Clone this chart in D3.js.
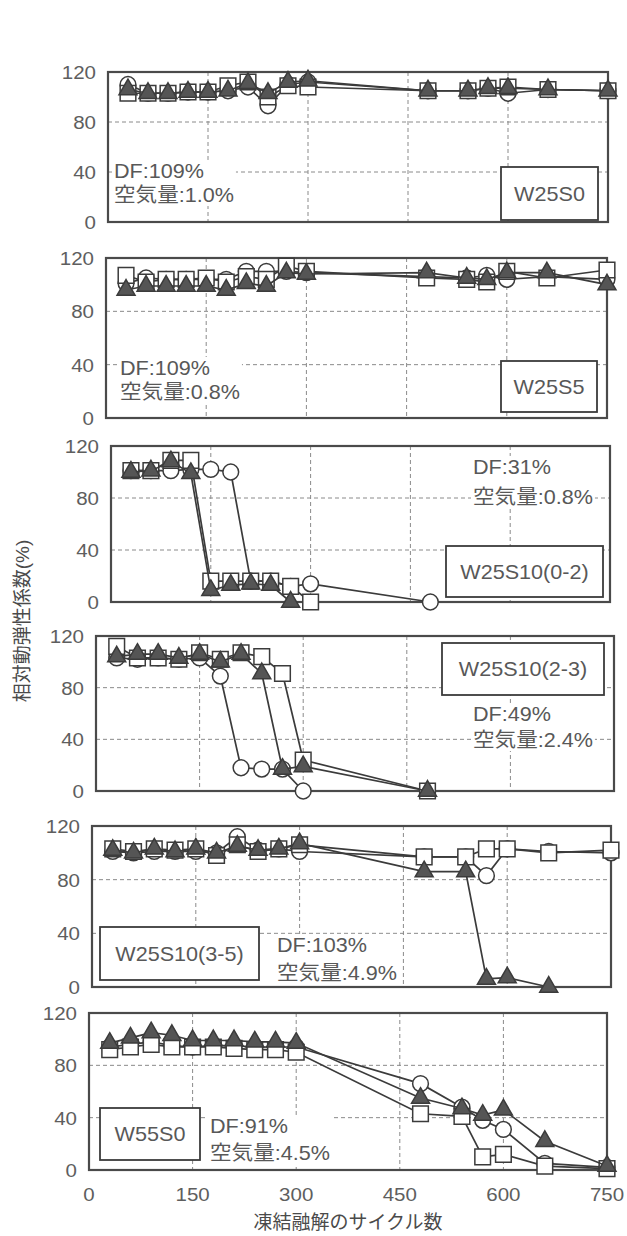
<!DOCTYPE html>
<html>
<head>
<meta charset="utf-8">
<script src="https://cdn.jsdelivr.net/npm/d3@7"></script>
<style>
  body { margin: 0; background: #fff; }
  text { font-family: "Liberation Sans", Arial, "Noto Sans CJK JP", sans-serif; }
</style>
</head>
<body>
<svg id="chart" width="627" height="1236"></svg>
<script>
// ---- data ----------------------------------------------------------------
const cyclesLong  = [30, 60, 90, 120, 150, 180, 210, 240, 270, 300, 480, 540, 570, 600, 660, 750];
const cyclesShort = [30, 60, 90, 120, 150, 180, 210, 240, 270, 300, 480];

const xTicks = [0, 150, 300, 450, 600, 750];
const yTicks = [0, 40, 80, 120];
const xGrid = [150, 300, 450, 600];
const yGrid = [40, 80];

const specimenNames = ["W25S0", "W25S5", "W25S10(0-2)", "W25S10(2-3)", "W25S10(3-5)", "W55S0"];
const dfTexts  = ["DF:109%", "DF:109%", "DF:31%", "DF:49%", "DF:103%", "DF:91%"];
const airTexts = ["空気量:1.0%", "空気量:0.8%", "空気量:0.8%", "空気量:2.4%", "空気量:4.9%", "空気量:4.5%"];

// relative dynamic modulus (%) : circle / square / triangle specimens
const w25s0Circle   = [110, 103, 103, 104, 104, 105, 108, 93, 110, 112, 105, 105, 107, 103, 106, 105];
const w25s0Square   = [103, 103, 103, 104, 104, 109, 112, 100, 109, 108, 105, 105, 107, 108, 106, 105];
const w25s0Triangle = [106, 103, 103, 104, 104, 105, 111, 103, 112, 113, 105, 105, 107, 107, 106, 105];

const w25s5Circle   = [101, 105, 104, 104, 104, 104, 110, 110, 110, 109, 106, 105, 107, 104, 106, 104];
const w25s5Square   = [107, 102, 104, 104, 105, 102, 106, 104, 114, 110, 105, 104, 102, 110, 105, 111];
const w25s5Triangle = [96, 99, 99, 99, 99, 96, 101, 99, 109, 108, 109, 105, 104, 109, 109, 100];

const w25s10aCircle   = [101, 101, 101, 102, 102, 100, 16, 16, 12, 14, 0];
const w25s10aSquare   = [101, 101, 109, 109, 16, 16, 16, 16, 12, 0, null];
const w25s10aTriangle = [100, 101, 108, 99, 9, 13, 14, 13, 0, null, null];

const w25s10bCircle   = [103, 102, 103, 102, 103, 89, 18, 17, 17, 0, null];
const w25s10bSquare   = [112, 103, 103, 102, 107, 102, 107, 104, 91, 24, 0];
const w25s10bTriangle = [104, 106, 106, 103, 106, 100, 106, 91, 17, 19, 0];

const w25s10cCircle   = [101, 100, 101, 101, 101, 100, 112, 102, 103, 101, 97, 97, 83, 103, 101, 100];
const w25s10cSquare   = [103, 101, 103, 102, 103, 98, 106, 101, 103, 106, 97, 97, 103, 103, 100, 102];
const w25s10cTriangle = [102, 100, 103, 101, 103, 100, 105, 102, 103, 107, 86, 86, 6, 7, 0, null];

const w55s0Circle   = [94, 96, 98, 95, 94, 95, 95, 94, 94, 94, 66, 48, 38, 31, 5, 2];
const w55s0Square   = [92, 94, 96, 94, 94, 94, 93, 92, 92, 90, 43, 41, 10, 12, 3, 1];
const w55s0Triangle = [97, 101, 105, 103, 99, 99, 99, 98, 98, 97, 55, 47, 42, 46, 22, 3];

const panelCycles = [cyclesLong, cyclesLong, cyclesShort, cyclesShort, cyclesLong, cyclesLong];
const panelSeries = [
  [w25s0Circle, w25s0Square, w25s0Triangle],
  [w25s5Circle, w25s5Square, w25s5Triangle],
  [w25s10aCircle, w25s10aSquare, w25s10aTriangle],
  [w25s10bCircle, w25s10bSquare, w25s10bTriangle],
  [w25s10cCircle, w25s10cSquare, w25s10cTriangle],
  [w55s0Circle, w55s0Square, w55s0Triangle]
];

// ---- layout ----------------------------------------------------------------
const frames = [
  { x0: 108, x1: 608, y0: 72,   y1: 222 },
  { x0: 106, x1: 607, y0: 258,  y1: 418 },
  { x0: 111, x1: 610, y0: 446,  y1: 602 },
  { x0: 96,  x1: 614, y0: 636,  y1: 791 },
  { x0: 92,  x1: 611, y0: 826,  y1: 987 },
  { x0: 89,  x1: 607, y0: 1013, y1: 1170 }
];
// text block (left, DF centre y, air centre y) and name box (x, y, w, h)
const notes = [
  { x: 114, dfY: 171,  airY: 195 },
  { x: 120, dfY: 368,  airY: 392 },
  { x: 473, dfY: 467,  airY: 497 },
  { x: 473, dfY: 714,  airY: 740 },
  { x: 277, dfY: 945,  airY: 973 },
  { x: 210, dfY: 1126, airY: 1153 }
];
const nameBoxes = [
  { x: 501, y: 167,  w: 97,  h: 53 },
  { x: 501, y: 361,  w: 96,  h: 51 },
  { x: 446, y: 546,  w: 157, h: 51 },
  { x: 442, y: 643,  w: 162, h: 52 },
  { x: 100, y: 927,  w: 159, h: 53 },
  { x: 100, y: 1108, w: 100, h: 52 }
];

const ink = "#3b3b3b";
const textInk = "#585858";
const svg = d3.select("#chart");

// stretched text helper (the typeface is a little wide)
function wideText(g, str, x, y, size, anchor, fill) {
  return g.append("text")
    .attr("transform", `translate(${x},${y}) scale(1.08,1)`)
    .attr("dy", "0.36em")
    .attr("text-anchor", anchor)
    .attr("font-size", size)
    .attr("fill", fill)
    .text(str);
}

const symCircle = d3.symbol().type(d3.symbolCircle).size(195);
const symSquare = d3.symbol().type(d3.symbolSquare).size(245);
const symTriangle = d3.symbol().type(d3.symbolTriangle).size(140);
const markerDefs = [
  { sym: symCircle,   fill: "#fff" },
  { sym: symSquare,   fill: "#fff" },
  { sym: symTriangle, fill: "#555" }
];

frames.forEach((f, i) => {
  const g = svg.append("g");
  const x = d3.scaleLinear().domain([0, 750]).range([f.x0, f.x1]);
  const y = d3.scaleLinear().domain([0, 120]).range([f.y1, f.y0]);

  // grid
  g.selectAll(".vg").data(xGrid).join("line")
    .attr("x1", d => x(d)).attr("x2", d => x(d))
    .attr("y1", f.y0).attr("y2", f.y1)
    .attr("stroke", "#8a8a8a").attr("stroke-width", 1).attr("stroke-dasharray", "4,3");
  g.selectAll(".hg").data(yGrid).join("line")
    .attr("x1", f.x0).attr("x2", f.x1)
    .attr("y1", d => y(d)).attr("y2", d => y(d))
    .attr("stroke", "#8a8a8a").attr("stroke-width", 1).attr("stroke-dasharray", "4,3");

  // frame
  g.append("rect")
    .attr("x", f.x0).attr("y", f.y0)
    .attr("width", f.x1 - f.x0).attr("height", f.y1 - f.y0)
    .attr("fill", "none").attr("stroke", "#4a4a4a").attr("stroke-width", 2.2);

  // y tick labels
  yTicks.forEach(t => wideText(g, String(t), f.x0 - 12, y(t), 19, "end", "#5e5e5e"));

  // annotation texts with white backing
  const n = notes[i];
  const tg = g.append("g");
  wideText(tg, dfTexts[i], n.x, n.dfY, 20, "start", textInk);
  wideText(tg, airTexts[i], n.x, n.airY, 20, "start", textInk);
  const bb = tg.node().getBBox();
  g.insert("rect", () => tg.node())
    .attr("x", bb.x - 2).attr("y", bb.y)
    .attr("width", bb.width + 4).attr("height", bb.height)
    .attr("fill", "#fff");

  // specimen name box
  const b = nameBoxes[i];
  g.append("rect")
    .attr("x", b.x).attr("y", b.y).attr("width", b.w).attr("height", b.h)
    .attr("fill", "#fff").attr("stroke", ink).attr("stroke-width", 1.8);
  wideText(g, specimenNames[i], b.x + b.w / 2, b.y + b.h / 2, 20, "middle", textInk);

  // series
  const cyc = panelCycles[i];
  const line = d3.line()
    .defined(d => d.v != null)
    .x(d => x(d.c)).y(d => y(d.v));
  panelSeries[i].forEach((vals, s) => {
    const pts = cyc.map((c, k) => ({ c, v: vals[k] })).filter(d => d.v != null);
    g.append("path").datum(pts)
      .attr("d", line)
      .attr("fill", "none").attr("stroke", ink).attr("stroke-width", 1.7);
    g.selectAll(null).data(pts).join("path")
      .attr("transform", d => `translate(${x(d.c)},${y(d.v)})`)
      .attr("d", markerDefs[s].sym())
      .attr("fill", markerDefs[s].fill)
      .attr("stroke", ink).attr("stroke-width", 1.5);
  });

  // x tick labels on the bottom panel only
  if (i === frames.length - 1) {
    xTicks.forEach(t => wideText(g, String(t), x(t), f.y1 + 24, 19, "middle", "#5e5e5e"));
    g.append("text")
      .attr("x", (f.x0 + f.x1) / 2).attr("y", 1222)
      .attr("dy", "0.36em").attr("text-anchor", "middle")
      .attr("font-size", 19).attr("fill", "#4a4a4a")
      .attr("font-family", "'Noto Sans CJK JP', sans-serif")
      .text("凍結融解のサイクル数");
  }
});

// y axis title
svg.append("text")
  .attr("transform", "translate(22,621) rotate(-90)")
  .attr("dy", "0.36em").attr("text-anchor", "middle")
  .attr("font-size", 19).attr("fill", "#4a4a4a")
  .attr("font-family", "'Noto Sans CJK JP', sans-serif")
  .text("相対動弾性係数(%)");
</script>
</body>
</html>
